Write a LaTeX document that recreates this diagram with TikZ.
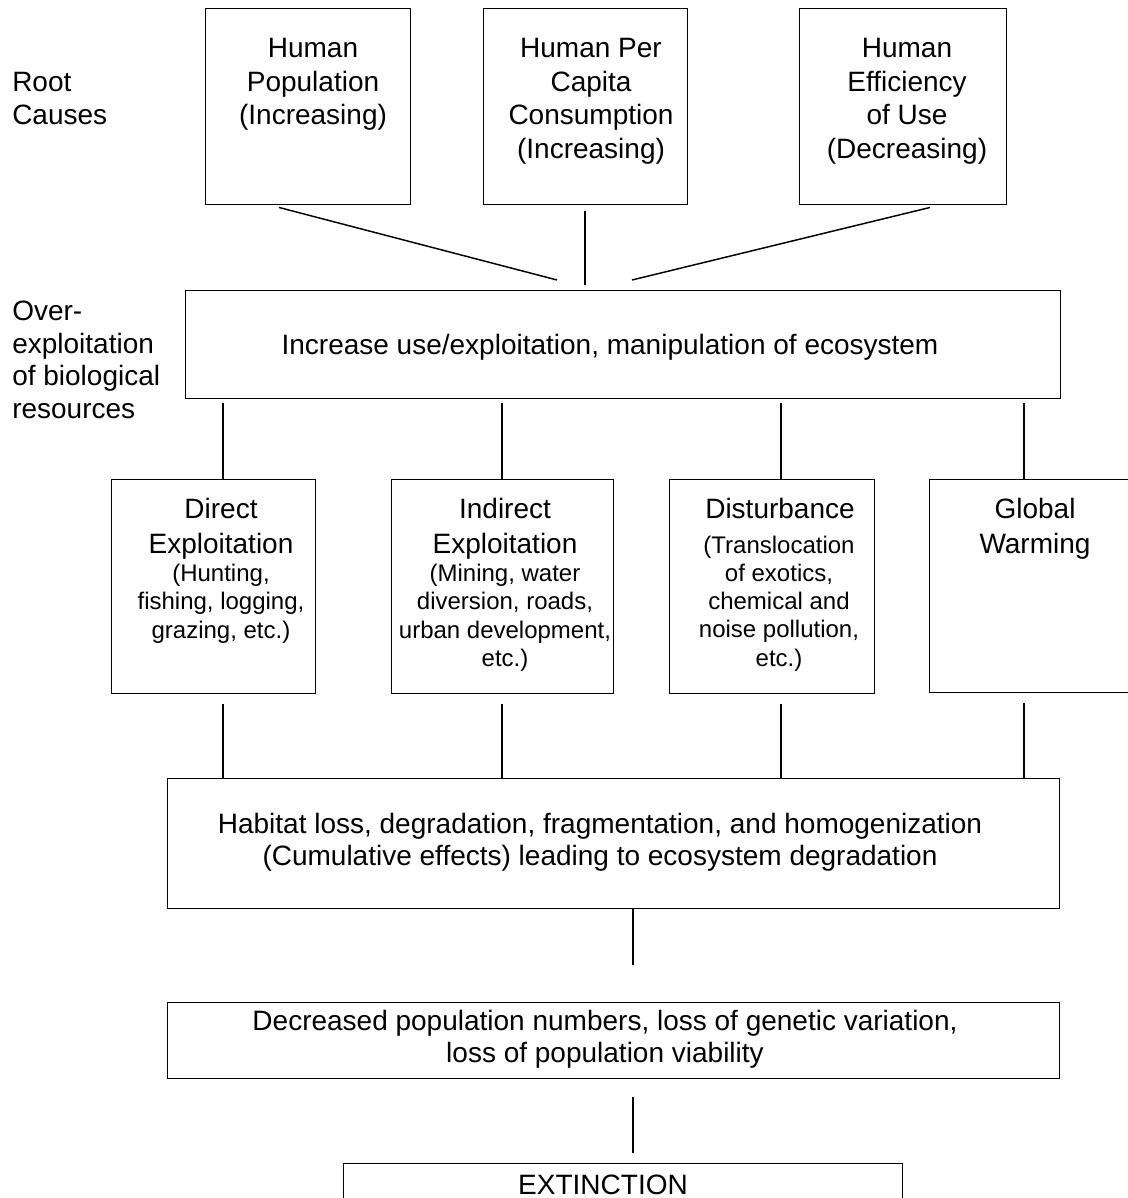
\documentclass[tikz,border=0pt]{standalone}
\usepackage{fontspec}
\setmainfont{Liberation Sans}
\usetikzlibrary{calc}
\newdimen\upx \upx=0.75pt
\begin{document}
\begin{tikzpicture}[x=0.75pt,y=-0.75pt,
  box/.style={draw, line width=1.1pt, rectangle, inner sep=0pt, anchor=north west},
  conn/.style={line width=1.1pt},
  big/.style={font=\fontsize{21pt}{25.3pt}\selectfont, align=center, inner sep=0pt, anchor=north},
  mid/.style={font=\fontsize{21pt}{25.9pt}\selectfont, align=center, inner sep=0pt, anchor=north},
  lbl/.style={font=\fontsize{21pt}{24.4pt}\selectfont, align=left, inner sep=0pt, anchor=north west},
  small/.style={font=\fontsize{18pt}{21.2pt}\selectfont, align=center, inner sep=0pt, anchor=north},
  wide/.style={font=\fontsize{21pt}{23.7pt}\selectfont, align=center, inner sep=0pt, anchor=north}]
\fill[white] (0,0) rectangle (1127,1198);
\useasboundingbox (0,0) rectangle (1127,1198);

% boxes
\node[box, minimum width=205\upx, minimum height=196\upx] (b1) at (205,8) {};
\node[box, minimum width=204\upx, minimum height=196\upx] (b2) at (483,8) {};
\node[box, minimum width=207\upx, minimum height=196\upx] (b3) at (799,8) {};
\node[box, minimum width=875\upx, minimum height=108\upx] (main) at (185,290) {};
\node[box, minimum width=204\upx, minimum height=214\upx] (d1) at (111,479) {};
\node[box, minimum width=222\upx, minimum height=214\upx] (d2) at (391,479) {};
\node[box, minimum width=205\upx, minimum height=214\upx] (d3) at (669,479) {};
\node[box, minimum width=212\upx, minimum height=213\upx] (d4) at (929,479) {};
\node[box, minimum width=892\upx, minimum height=130\upx] (hab) at (167,778) {};
\node[box, minimum width=892\upx, minimum height=76\upx] (dec) at (167,1002) {};
\node[box, minimum width=559\upx, minimum height=70\upx] (ext) at (343,1163) {};

% texts
\node[lbl] (lroot) at (12,72) {Root\\Causes};
\node[lbl] (lover) at (12,301) {Over-\\exploitation\\of biological\\resources};
\node[big] (t1) at (313,38) {Human\\Population\\(Increasing)};
\node[big] (t2) at (591,38) {Human Per\\Capita\\Consumption\\(Increasing)};
\node[big] (t3) at (907,38) {Human\\Efficiency\\of Use\\(Decreasing)};
\node[font=\fontsize{21pt}{25pt}\selectfont, inner sep=0pt, anchor=base] (tmain) at (610,354) {Increase use/exploitation, manipulation of ecosystem};
\node[mid] (h1) at (221,498) {Direct\\Exploitation};
\node[small] (s1) at (221,564) {(Hunting,\\fishing, logging,\\grazing, etc.)};
\node[mid] (h2) at (505,498) {Indirect\\Exploitation};
\node[small] (s2) at (505,564) {(Mining, water\\diversion, roads,\\urban development,\\etc.)};
\node[mid] (h3) at (780,498) {Disturbance};
\node[small] (s3) at (779,535.5) {(Translocation\\of exotics,\\chemical and\\noise pollution,\\etc.)};
\node[mid] (h4) at (1035,498) {Global\\Warming};
\node[wide] (thab) at (600,813) {Habitat loss, degradation, fragmentation, and homogenization\\(Cumulative effects) leading to ecosystem degradation};
\node[wide] (tdec) at (605,1010) {Decreased population numbers, loss of genetic variation,\\loss of population viability};
\node[font=\fontsize{21pt}{25pt}\selectfont, inner sep=0pt, anchor=base] (text) at (603,1194.5) {EXTINCTION};

% connector free ends
\coordinate (k1) at (557,280);
\coordinate (k2) at (585,285);
\coordinate (k3) at (632,280);
\coordinate (k4) at (633,965);

% connectors
\draw[conn] ($(b1.south west)+(74,2)$) -- (k1);
\draw[conn] ($(b2.south west)+(102,6)$) -- (k2);
\draw[conn] ($(b3.south west)+(131,2)$) -- (k3);

\draw[conn] ($(main.south west)+(38,4)$) -- ($(d1.north west)+(112,0)$);
\draw[conn] ($(main.south west)+(317,4)$) -- ($(d2.north west)+(111,0)$);
\draw[conn] ($(main.south west)+(596,4)$) -- ($(d3.north west)+(112,0)$);
\draw[conn] ($(main.south west)+(839,4)$) -- ($(d4.north west)+(95,0)$);

\draw[conn] ($(d1.south west)+(112,10)$) -- ($(hab.north west)+(56,0)$);
\draw[conn] ($(d2.south west)+(111,10)$) -- ($(hab.north west)+(335,0)$);
\draw[conn] ($(d3.south west)+(112,10)$) -- ($(hab.north west)+(614,0)$);
\draw[conn] ($(d4.south west)+(95,10)$) -- ($(hab.north west)+(857,0)$);

\draw[conn] ($(hab.south west)+(466,0)$) -- (k4);
\draw[conn] ($(dec.south west)+(466,18)$) -- ($(ext.north west)+(290,-10)$);
\end{tikzpicture}
\end{document}
